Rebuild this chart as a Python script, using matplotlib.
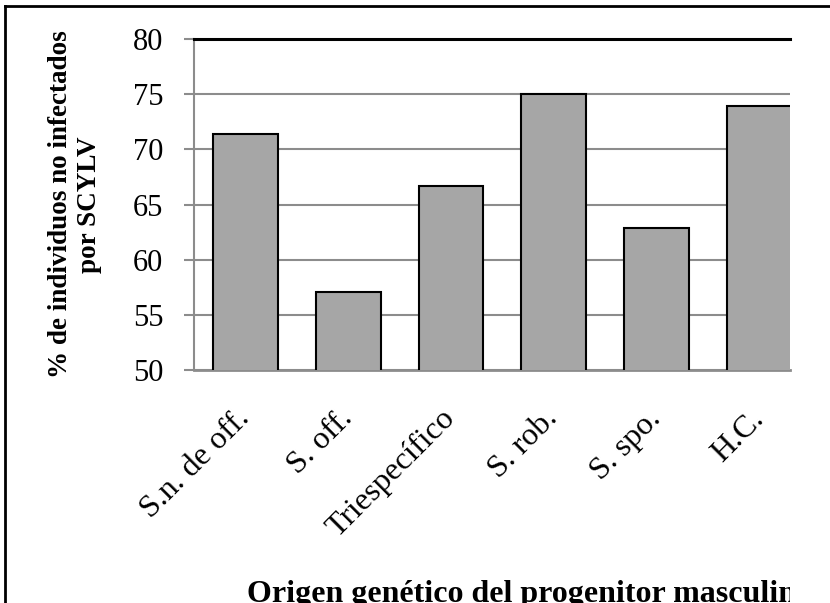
import matplotlib
matplotlib.use('Agg')
import matplotlib.pyplot as plt
from matplotlib.lines import Line2D
from matplotlib.transforms import Bbox, TransformedBbox

categories = ['S.n. de off.', 'S. off.', 'Triespecífico', 'S. rob.', 'S. spo.', 'H.C.']
values = [71.4, 57.1, 66.7, 75.0, 62.9, 73.9]
yticks = [50, 55, 60, 65, 70, 75, 80]

ylabel = '% de individuos no infectados\npor SCYLV'
xlabel = 'Origen genético del progenitor masculino'

plt.rcParams['font.family'] = ['Liberation Serif', 'DejaVu Serif']

W, H = 830, 603
fig = plt.figure(figsize=(W / 100, H / 100), dpi=100)

# axes placed in pixel terms
left, right, top, bottom = 194, 790, 39, 370
ax = fig.add_axes([left / W, 1 - bottom / H, (right - left) / W, (bottom - top) / H])

grey = '#8c8c8c'
ax.set_axisbelow(True)
ax.yaxis.grid(True, color=grey, linewidth=1.5)
x = range(len(categories))
ax.bar(x, values, width=0.63, bottom=0, color='#a6a6a6', edgecolor='black',
       linewidth=1.5, zorder=3)

ax.set_ylim(50, 80)
ax.set_xlim(-0.5, 5.3)
ax.set_yticks(yticks)
ax.set_xticks(list(x))
ax.set_xticklabels(categories, rotation=45, ha='right', va='center',
                   rotation_mode='anchor', fontsize=23)
ax.tick_params(axis='x', length=0, pad=32)
ax.tick_params(axis='y', length=7, width=1.5, color=grey, labelsize=22, pad=15)

ax.spines['right'].set_visible(False)
ax.spines['top'].set_color('black')
ax.spines['top'].set_linewidth(2.2)
ax.spines['left'].set_color(grey)
ax.spines['left'].set_linewidth(1.5)
ax.spines['bottom'].set_color(grey)
ax.spines['bottom'].set_linewidth(2)

fig.text(75 / W, 1 - 204.5 / H, ylabel, rotation=90, ha='center', va='center',
         multialignment='center', fontsize=19.5, fontweight='bold')

t = fig.text(247 / W, 1 - 602 / H, xlabel, ha='left', va='baseline',
             fontsize=23, fontweight='bold')
t.set_clip_box(TransformedBbox(Bbox([[0, 0], [right / W, 1]]), fig.transFigure))
t.set_clip_on(True)

# outer frame (top and left visible in the crop)
fig.add_artist(Line2D([4.5 / W, 4.5 / W], [0, 1 - 6 / H], color='black',
                      linewidth=2, transform=fig.transFigure))
fig.add_artist(Line2D([4.5 / W, 1], [1 - 6 / H, 1 - 6 / H], color='black',
                      linewidth=2, transform=fig.transFigure))

fig.savefig('out.png', dpi=100)
